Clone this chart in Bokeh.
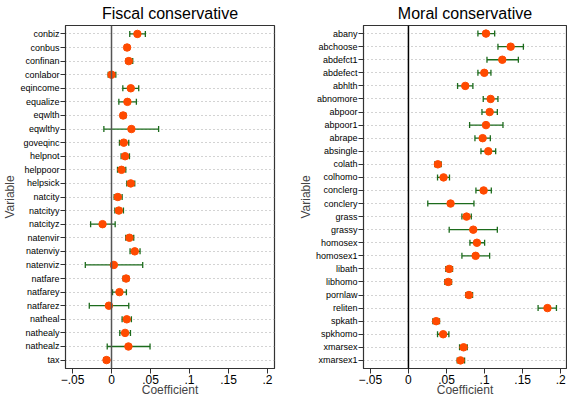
from bokeh.plotting import figure
from bokeh.models import ColumnDataSource, Whisker, Span, FixedTicker, TeeHead, Range1d, FactorRange
from bokeh.layouts import row
from bokeh.embed import file_html
from bokeh.resources import INLINE

fiscal_vars = ["conbiz", "conbus", "confinan", "conlabor", "eqincome", "equalize", "eqwlth",
               "eqwlthy", "goveqinc", "helpnot", "helppoor", "helpsick", "natcity", "natcityy",
               "natcityz", "natenvir", "natenviy", "natenviz", "natfare", "natfarey", "natfarez",
               "natheal", "nathealy", "nathealz", "tax"]
fiscal_coef = [0.0332, 0.0200, 0.0221, 0.0000, 0.0247, 0.0204, 0.0149, 0.0255, 0.0157, 0.0174,
               0.0128, 0.0247, 0.0081, 0.0094, -0.0115, 0.0230, 0.0298, 0.0030, 0.0187, 0.0102,
               -0.0034, 0.0196, 0.0174, 0.0217, -0.0064]
fiscal_lo = [0.0234, 0.0170, 0.0187, -0.0043, 0.0145, 0.0094, 0.0119, -0.0098, 0.0102, 0.0123,
             0.0077, 0.0196, 0.0034, 0.0043, -0.0268, 0.0183, 0.0238, -0.0336, 0.0149, 0.0013,
             -0.0285, 0.0136, 0.0106, -0.0055, -0.0098]
fiscal_hi = [0.0434, 0.0226, 0.0272, 0.0055, 0.0349, 0.0319, 0.0183, 0.0604, 0.0221, 0.0230,
             0.0183, 0.0298, 0.0136, 0.0153, 0.0047, 0.0285, 0.0366, 0.0400, 0.0221, 0.0191,
             0.0221, 0.0255, 0.0243, 0.0494, -0.0030]

moral_vars = ["abany", "abchoose", "abdefct1", "abdefect", "abhlth", "abnomore", "abpoor",
              "abpoor1", "abrape", "absingle", "colath", "colhomo", "conclerg", "conclery",
              "grass", "grassy", "homosex", "homosex1", "libath", "libhomo", "pornlaw", "reliten",
              "spkath", "spkhomo", "xmarsex", "xmarsex1"]
moral_coef = [0.1018, 0.1342, 0.1232, 0.0996, 0.0746, 0.1079, 0.1066, 0.1018, 0.0974, 0.1048,
              0.0386, 0.0461, 0.0987, 0.0553, 0.0763, 0.0851, 0.0899, 0.0882, 0.0535, 0.0522,
              0.0794, 0.1825, 0.0364, 0.0456, 0.0724, 0.0684]
moral_lo = [0.0912, 0.1175, 0.1031, 0.0912, 0.0645, 0.0982, 0.0965, 0.0803, 0.0873, 0.0952,
            0.0346, 0.0382, 0.0886, 0.0254, 0.0702, 0.0535, 0.0807, 0.0702, 0.0491, 0.0478,
            0.0754, 0.1702, 0.0320, 0.0382, 0.0671, 0.0640]
moral_hi = [0.1132, 0.1509, 0.1443, 0.1083, 0.0846, 0.1175, 0.1167, 0.1241, 0.1075, 0.1145,
            0.0430, 0.0539, 0.1088, 0.0860, 0.0825, 0.1167, 0.1000, 0.1066, 0.0579, 0.0566,
            0.0842, 0.1943, 0.0408, 0.0531, 0.0772, 0.0737]

x_ticks = [-0.05, 0, 0.05, 0.1, 0.15, 0.2]
x_tick_labels = ["\u2212.05", "0", ".05", ".1", ".15", ".2"]

FONT = "Liberation Sans"
GREEN = "#1c6b1c"
ORANGE = "#ff4a00"


def make_panel(title, names, coef, lo, hi, width, border_left, border_right, xmax, zero_color):
    src = ColumnDataSource(dict(name=names, coef=coef, lo=lo, hi=hi))
    factors = list(reversed(names))
    p = figure(width=width, height=399, output_backend="svg", toolbar_location=None,
               y_range=FactorRange(*factors, range_padding=0.12, range_padding_units="absolute"),
               x_range=Range1d(-0.059, xmax),
               min_border_left=border_left, min_border_right=border_right,
               min_border_top=25, min_border_bottom=29)
    p.title.text = title
    p.title.align = "center"
    p.title.vertical_align = "top"
    p.title.text_font = FONT
    p.title.text_font_style = "normal"
    p.title.text_font_size = "16px"
    p.title.text_color = "black"
    p.title.standoff = 4

    p.background_fill_color = "white"
    p.border_fill_color = "white"
    p.outline_line_color = "#333333"
    p.outline_line_width = 1.2

    p.xgrid.grid_line_color = None
    p.ygrid.grid_line_color = "#a6a6a6"
    p.ygrid.grid_line_dash = "1 3"
    p.ygrid.grid_line_width = 1

    p.xaxis.ticker = FixedTicker(ticks=x_ticks)
    p.xaxis.major_label_overrides = {t: l for t, l in zip(x_ticks, x_tick_labels)}
    p.xaxis.major_label_overrides[0] = "0"
    p.xaxis.minor_tick_line_color = None
    p.xaxis.major_tick_out = 5
    p.xaxis.major_tick_in = 0
    p.xaxis.major_label_standoff = 1
    p.xaxis.major_label_text_font = FONT
    p.xaxis.major_label_text_font_size = "12px"
    p.xaxis.major_label_text_color = "black"
    p.xaxis.axis_label = "Coefficient"
    p.xaxis.axis_label_text_font = FONT
    p.xaxis.axis_label_text_font_size = "12px"
    p.xaxis.axis_label_text_font_style = "normal"
    p.xaxis.axis_label_standoff = -4
    p.xaxis.axis_line_color = "#333333"
    p.xaxis.major_tick_line_color = "#333333"

    p.yaxis.major_tick_out = 5
    p.yaxis.major_tick_in = 0
    p.yaxis.major_label_standoff = 1
    p.yaxis.major_label_text_font = FONT
    p.yaxis.major_label_text_font_size = "9px"
    p.yaxis.major_label_text_color = "black"
    p.yaxis.axis_label = "Variable"
    p.yaxis.axis_label_text_font = FONT
    p.yaxis.axis_label_text_font_size = "12px"
    p.yaxis.axis_label_text_font_style = "normal"
    p.yaxis.axis_label_standoff = 0
    p.yaxis.axis_line_color = "#333333"
    p.yaxis.major_tick_line_color = "#333333"

    p.add_layout(Span(location=0, dimension="height", line_color=zero_color, line_width=1.5))

    w = Whisker(source=src, base="name", lower="lo", upper="hi", dimension="width",
                line_color=GREEN, line_width=1.3,
                upper_head=TeeHead(size=6, line_color=GREEN, line_width=1.3),
                lower_head=TeeHead(size=6, line_color=GREEN, line_width=1.3))
    p.add_layout(w)
    p.scatter(x="coef", y="name", source=src, size=7.5, fill_color=ORANGE, line_color=ORANGE)
    return p


p1 = make_panel("Fiscal conservative", fiscal_vars, fiscal_coef, fiscal_lo, fiscal_hi,
                283, 64, 9, 0.209, "#555555")
p2 = make_panel("Moral conservative", moral_vars, moral_coef, moral_lo, moral_hi,
                284, 80, 1, 0.2075, "#000000")

layout = row(p1, p2)
open("out.html", "w").write(file_html(layout, INLINE))
